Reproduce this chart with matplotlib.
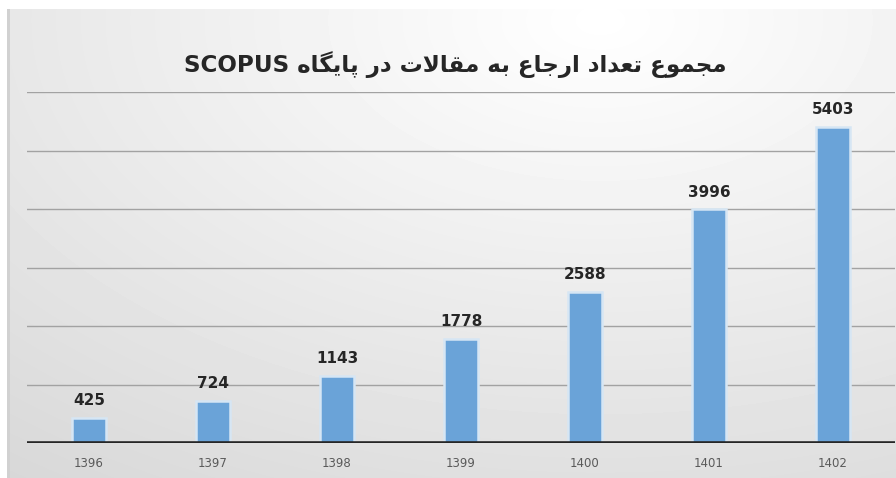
import matplotlib.pyplot as plt
import numpy as np

years = ["1396", "1397", "1398", "1399", "1400", "1401", "1402"]
citations = [425, 724, 1143, 1778, 2588, 3996, 5403]
title_fa = "مجموع تعداد ارجاع به مقالات در پایگاه"
title_en = "SCOPUS"

# matplotlib has no Arabic shaping, so pick presentation forms by hand
# (isolated, final, initial, medial)
FORMS = {
    "ا": ("\uFE8D", "\uFE8E", None, None),
    "ب": ("\uFE8F", "\uFE90", "\uFE91", "\uFE92"),
    "ت": ("\uFE95", "\uFE96", "\uFE97", "\uFE98"),
    "ج": ("\uFE9D", "\uFE9E", "\uFE9F", "\uFEA0"),
    "د": ("\uFEA9", "\uFEAA", None, None),
    "ر": ("\uFEAD", "\uFEAE", None, None),
    "ع": ("\uFEC9", "\uFECA", "\uFECB", "\uFECC"),
    "ق": ("\uFED5", "\uFED6", "\uFED7", "\uFED8"),
    "ل": ("\uFEDD", "\uFEDE", "\uFEDF", "\uFEE0"),
    "م": ("\uFEE1", "\uFEE2", "\uFEE3", "\uFEE4"),
    "ه": ("\uFEE9", "\uFEEA", "\uFEEB", "\uFEEC"),
    "و": ("\uFEED", "\uFEEE", None, None),
    "پ": ("\uFB56", "\uFB57", "\uFB58", "\uFB59"),
    "گ": ("\uFB92", "\uFB93", "\uFB94", "\uFB95"),
    "ی": ("\uFBFC", "\uFBFD", "\uFBFE", "\uFBFF"),
}


def shape_word(word):
    out = []
    i = 0
    prev_joins = False
    while i < len(word):
        ch = word[i]
        nxt = word[i + 1] if i + 1 < len(word) else None
        if ch == "ل" and nxt == "ا":
            out.append("\uFEFC" if prev_joins else "\uFEFB")
            prev_joins = False
            i += 2
            continue
        iso, fin, ini, med = FORMS[ch]
        next_joins = ini is not None and nxt is not None
        if prev_joins and next_joins:
            out.append(med)
        elif prev_joins:
            out.append(fin)
        elif next_joins:
            out.append(ini)
        else:
            out.append(iso)
        prev_joins = next_joins
        i += 1
    return "".join(out)


def visual_rtl(text):
    shaped = " ".join(shape_word(w) for w in text.split())
    return shaped[::-1]


fig = plt.figure(figsize=(8.96, 4.78), dpi=100)

# background gradient
bg = fig.add_axes([0, 0, 1, 1], zorder=-10)
h, w = 478, 896
yy, xx = np.mgrid[0:h, 0:w]
d = np.sqrt(((xx - 600) / 950.0) ** 2 + ((yy - 20) / 560.0) ** 2)
shade = np.clip(1.0 - 0.15 * d, 0.82, 1.0)
shade[:9, :] = 1.0
shade[:, :7] = 1.0
shade[9:, 7:10] = 0.82
bg.imshow(shade, cmap="gray", vmin=0, vmax=1, aspect="auto",
          interpolation="bilinear")
bg.axis("off")

ax = fig.add_axes([27 / 896, 35 / 478, 868 / 896, 351 / 478])
ax.set_facecolor("none")
x = np.arange(len(years))

for yv in range(1000, 7000, 1000):
    ax.axhline(yv, color="#a2a2a2", lw=1.0, zorder=1)

bars = ax.bar(x, citations, width=0.27, color="#6aa3d8",
              edgecolor="#d6e6f4", linewidth=1.8, zorder=2)
ax.axhline(0, color="#262626", lw=2.6, zorder=3)

for xi, v in zip(x, citations):
    ax.annotate(str(v), (xi, v), xytext=(0, 7), textcoords="offset points",
                ha="center", va="bottom", fontsize=11, fontweight="bold",
                color="#262626", family="DejaVu Sans")

ax.set_xlim(-0.5, 6.5)
ax.set_ylim(0, 6000)
ax.set_xticks(x)
ax.set_xticklabels(years, fontsize=8.5, color="#5a5a5a")
ax.tick_params(axis="x", length=0, pad=10)
ax.set_yticks([])
for s in ax.spines.values():
    s.set_visible(False)

fig.text(0.508, 1 - 65 / 478, title_en + " " + visual_rtl(title_fa),
         ha="center", va="center", fontsize=16.6, fontweight="bold",
         color="#262626", family=["DejaVu Sans"])

fig.savefig("out.png", dpi=100)
